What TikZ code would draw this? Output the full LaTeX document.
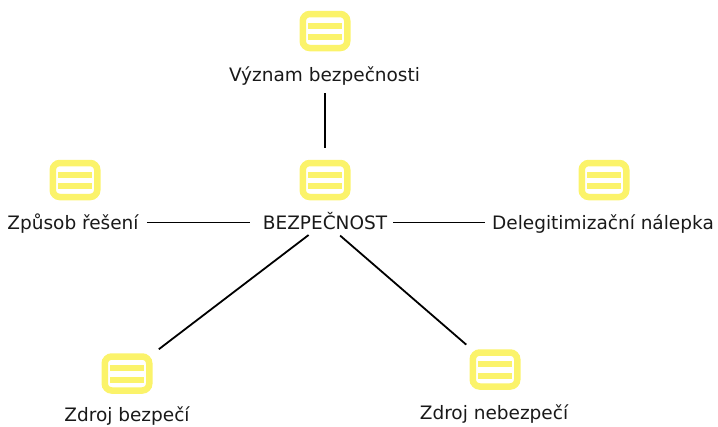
\documentclass[tikz,border=0pt]{standalone}
\usepackage{fontspec}
\setmainfont{DejaVu Sans}
\definecolor{iconyellow}{HTML}{FBF36A}
\tikzset{
  iconbox/.style={draw=iconyellow,line width=6.5pt,rounded corners=7pt,minimum width=44.5pt,minimum height=34pt,inner sep=0pt,outer sep=0pt},
  iconbar/.style={fill=iconyellow,draw=none,minimum width=34pt,minimum height=6pt,inner sep=0pt},
  lbl/.style={font=\fontsize{18.5pt}{22pt}\selectfont,text=black!90,inner sep=0pt,anchor=base},
  conn/.style={draw=black,line width=1.8pt}
}
\newcommand{\myicon}[3]{%
  \node[iconbox] (#1) at (#2,#3) {};
  \node[iconbar] (#1top) at (#2,#3-5.5) {};
  \node[iconbar] (#1bot) at (#2,#3+6) {};
}
\begin{document}
\begin{tikzpicture}[x=1pt,y=-1pt]
\useasboundingbox (0,0) rectangle (718,426);
\myicon{iv}{325}{31}
\myicon{iz}{75}{180}
\myicon{ib}{325}{180}
\myicon{id}{604}{180}
\myicon{izb}{127}{373.5}
\myicon{izn}{495}{369.5}
\node[lbl] (lv) at (324.5,81) {Význam bezpečnosti};
\node[lbl] (lz) at (73,229) {Způsob řešení};
\node[lbl] (lb) at (325,229.5) {BEZPEČNOST};
\node[lbl] (ld) at (603,229.5) {Delegitimizační nálepka};
\node[lbl] (lzb) at (127,421.8) {Zdroj bezpečí};
\node[lbl] (lzn) at (494,419) {Zdroj nebezpečí};
\coordinate (c) at (325,222.5);
\draw[conn,shorten <=8pt,shorten >=15pt] (ib.north |- lv.south) -- (ib.north);
\coordinate (a1) at ([xshift=8pt]lz.east |- c);
\coordinate (a2) at ([xshift=6pt]lb.east |- c);
\draw[conn,shorten >=13pt] (a1) -- (lb.west |- c);
\draw[conn,shorten >=7pt] (a2) -- (ld.west |- c);
\draw[conn,shorten <=20.6pt,shorten >=40pt] (c) -- (izb.center);
\draw[conn,shorten <=20pt,shorten >=38pt] (c) -- (izn.center);
\end{tikzpicture}
\end{document}
